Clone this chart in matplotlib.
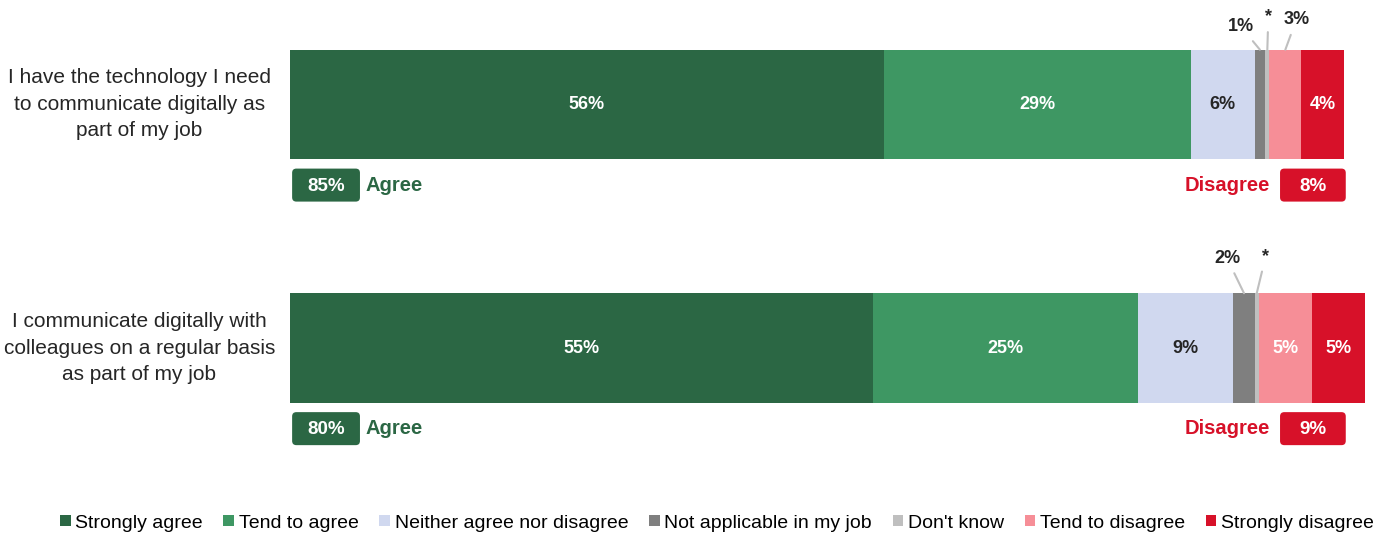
import numpy as np
import matplotlib
matplotlib.use("Agg")
import matplotlib.pyplot as plt
from matplotlib.patches import FancyBboxPatch

plt.rcParams["font.family"] = ["Liberation Sans", "DejaVu Sans"]

statements = [
    "I have the technology I need\nto communicate digitally as\npart of my job",
    "I communicate digitally with\ncolleagues on a regular basis\nas part of my job",
]
categories = ["Strongly agree", "Tend to agree", "Neither agree nor disagree",
              "Not applicable in my job", "Don't know", "Tend to disagree",
              "Strongly disagree"]
# '*' = less than 0.5%
strongly_agree = [56, 55]
tend_agree = [29, 25]
neither = [6, 9]
not_applicable = [1, 2]
dont_know = [0.4, 0.4]
tend_disagree = [3, 5]
strongly_disagree = [4, 5]
agree_net = [85, 80]
disagree_net = [8, 9]

colors = ["#2b6744", "#3e9763", "#d0d8ef", "#7f7f7f", "#bfbfbf", "#f68e97", "#d71129"]
label_colors = ["white", "white", "#262626", "white", "white", "white", "white"]
series = [strongly_agree, tend_agree, neither, not_applicable, dont_know,
          tend_disagree, strongly_disagree]

# segments labelled above the bar: (row, series index) -> (dx, dy) in pixels
outside = {(0, 3): (-19, 23), (0, 4): (1, 33), (0, 5): (11, 30),
           (1, 3): (-17, 35), (1, 4): (9, 37)}

fig = plt.figure(figsize=(13.89, 5.35), dpi=100)
px_per_pct = 10.6
ax = fig.add_axes([290 / 1389, 35 / 535, 103 * px_per_pct / 1389, 500 / 535])
ax.set_xlim(0, 103)
ax.set_ylim(1.624, -0.429)
ax.axis("off")

y = np.arange(len(statements))
bar_h = 0.45
left = np.zeros(len(statements))
for i, vals in enumerate(series):
    vals = np.array(vals, dtype=float)
    ax.barh(y, vals, left=left, height=bar_h, color=colors[i], label=categories[i])
    for r in range(len(statements)):
        txt = "*" if vals[r] < 0.5 else f"{vals[r]:.0f}%"
        cx = left[r] + vals[r] / 2
        if (r, i) in outside:
            dx, dy = outside[(r, i)]
            ax.annotate(txt, xy=(cx, y[r] - bar_h / 2), xytext=(dx, dy),
                        textcoords="offset pixels", ha="center", va="center",
                        fontsize=13, fontweight="bold", color="#262626",
                        arrowprops=dict(arrowstyle="-", color="#bfbfbf", lw=1.5,
                                        shrinkA=3, shrinkB=0))
        elif not (r == 0 and i == 5):
            ax.text(cx, y[r], txt, ha="center", va="center", fontsize=13,
                    fontweight="bold", color=label_colors[i])
    left += vals

# net agree / disagree boxes under each bar
aspect = (1 / 243.5) / (1 / px_per_pct)
box_h = 33 / 243.5
for r in range(len(statements)):
    yb = y[r] + 0.331
    for x0, x1, val, col in [(0.2, 6.6, agree_net[r], colors[0]),
                             (93.4, 99.6, disagree_net[r], colors[6])]:
        ax.add_patch(FancyBboxPatch((x0, yb - box_h / 2), x1 - x0, box_h,
                                    boxstyle="round,pad=0,rounding_size=0.4",
                                    mutation_aspect=aspect, fc=col, ec="none"))
        ax.text((x0 + x1) / 2, yb + 0.005, f"{val}%", ha="center", va="center",
                fontsize=13.5, fontweight="bold", color="white")
    ax.text(7.1, yb, "Agree", ha="left", va="center", fontsize=14.5,
            fontweight="bold", color=colors[0])
    ax.text(92.5, yb, "Disagree", ha="right", va="center", fontsize=14.5,
            fontweight="bold", color=colors[6])
    ax.text(-14.2, y[r], statements[r], ha="center", va="center", fontsize=15,
            linespacing=1.5, color="#262626")

handles, labels = ax.get_legend_handles_labels()
fig.legend(handles, labels, loc="center", bbox_to_anchor=(717 / 1389, 1 - 523 / 535),
           ncol=7, frameon=False, handlelength=0.55, handleheight=0.55,
           handletextpad=0.25, columnspacing=1.05,
           prop={"family": ["Liberation Sans Narrow", "Liberation Sans"], "size": 14})

fig.savefig("out.png", dpi=100)
